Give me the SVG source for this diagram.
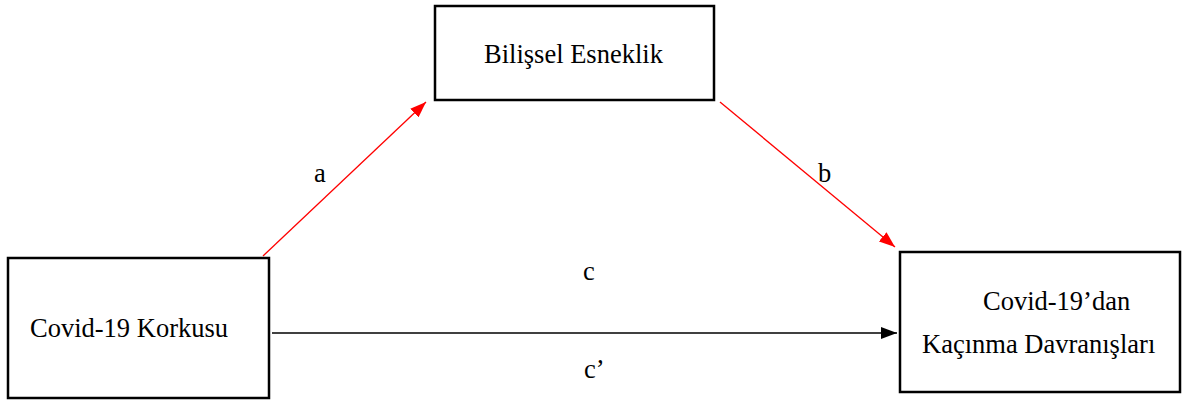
<svg xmlns="http://www.w3.org/2000/svg" width="1186" height="400" viewBox="0 0 1186 400">
<style>
.box{fill:#fff;stroke:#000;stroke-width:2.5}
.red{stroke:#ff0000;stroke-width:1.3;fill:none}
.blk{stroke:#000;stroke-width:1.3;fill:none}
</style>
<defs>
<marker id="ar" viewBox="0 0 16 12" refX="16" refY="6" markerWidth="16" markerHeight="12" markerUnits="userSpaceOnUse" orient="auto"><path d="M0,0 L16,6 L0,12 Z" fill="#ff0000"/></marker>
<marker id="ab" viewBox="0 0 16 12" refX="16" refY="6" markerWidth="16" markerHeight="12" markerUnits="userSpaceOnUse" orient="auto"><path d="M0,0 L16,6 L0,12 Z" fill="#000"/></marker>
</defs>
<rect width="1186" height="400" fill="#fff"/>
<g font-family="'Liberation Serif', 'Times New Roman', serif" font-size="26.5" fill="#000">
<g id="connectors">
<line class="red" x1="263" y1="256" x2="426" y2="102" marker-end="url(#ar)"/>
<line class="red" x1="720" y1="102" x2="895" y2="247" marker-end="url(#ar)"/>
<line class="blk" x1="272" y1="333" x2="897" y2="333" marker-end="url(#ab)"/>
<text x="314" y="182">a</text>
<text x="818" y="182">b</text>
<text x="583" y="280">c</text>
<text x="584" y="378">c’</text>
</g>
<g id="node-bilissel">
<rect class="box" x="435" y="6" width="279" height="94"/>
<text x="484" y="63">Bilişsel Esneklik</text>
</g>
<g id="node-korku">
<rect class="box" x="8" y="258" width="261" height="140"/>
<text x="30" y="337">Covid-19 Korkusu</text>
</g>
<g id="node-kacinma">
<rect class="box" x="900" y="252" width="280" height="140"/>
<text x="983" y="310">Covid-19’dan</text>
<text x="922" y="353">Kaçınma Davranışları</text>
</g>
</g>
</svg>
